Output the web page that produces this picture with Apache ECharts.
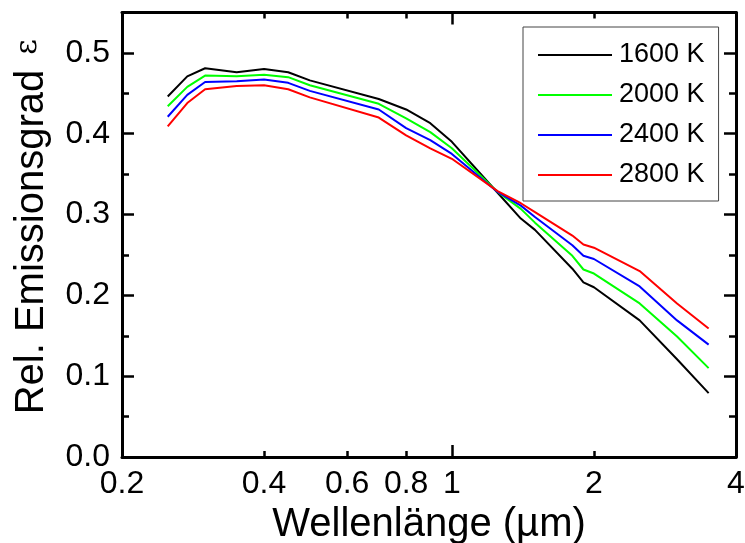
<!DOCTYPE html>
<html>
<head>
<meta charset="utf-8">
<script src="https://cdn.jsdelivr.net/npm/echarts@6/dist/echarts.min.js"></script>
<style>
  html, body { margin: 0; padding: 0; background: #fff; }
  #chart { width: 745px; height: 543px; }
</style>
</head>
<body>
<div id="chart"></div>
<script>
// Wavelength grid (µm) and relative emissivity per temperature
const wavelengths = [0.25, 0.275, 0.3, 0.35, 0.4, 0.45, 0.5, 0.7, 0.8, 0.9, 1.0, 1.25, 1.4, 1.5, 1.8, 1.9, 2.0, 2.5, 3.0, 3.5];
const eps1600 = [0.446, 0.471, 0.481, 0.476, 0.480, 0.476, 0.466, 0.443, 0.430, 0.413, 0.390, 0.327, 0.295, 0.281, 0.233, 0.216, 0.210, 0.169, 0.121, 0.079];
const eps2000 = [0.434, 0.458, 0.472, 0.471, 0.473, 0.470, 0.460, 0.437, 0.419, 0.402, 0.382, 0.328, 0.307, 0.290, 0.249, 0.232, 0.227, 0.190, 0.149, 0.110];
const eps2400 = [0.421, 0.448, 0.464, 0.465, 0.467, 0.463, 0.453, 0.430, 0.407, 0.392, 0.375, 0.328, 0.311, 0.297, 0.262, 0.249, 0.245, 0.211, 0.169, 0.139];
const eps2800 = [0.409, 0.438, 0.455, 0.459, 0.460, 0.455, 0.445, 0.420, 0.398, 0.382, 0.369, 0.329, 0.314, 0.303, 0.274, 0.263, 0.259, 0.230, 0.190, 0.159];

const seriesNames = ['1600 K', '2000 K', '2400 K', '2800 K'];
const seriesColors = ['#000000', '#00ff00', '#0000ff', '#ff0000'];
const seriesValues = [eps1600, eps2000, eps2400, eps2800];

// Axis tick positions
const xLabelValues = [0.2, 0.4, 0.6, 0.8, 1, 2, 4];
const xShortTicks = [0.4, 0.6, 0.8, 2];
const xLongTicks = [1];
const yMajorTicks = [0, 0.1, 0.2, 0.3, 0.4, 0.5];
const yMinorTicks = [0.05, 0.15, 0.25, 0.35, 0.45];

const FONT = 'Liberation Sans, Arial, sans-serif';
const AXIS_COLOR = '#000';

function xAxisDef(position, ticks, len, withLabels, withLine) {
  return {
    type: 'log', logBase: 10, min: 0.2, max: 4, position: position,
    axisLine: { show: withLine, onZero: false, lineStyle: { color: AXIS_COLOR, width: 3 } },
    axisTick: { show: true, inside: true, length: len, customValues: ticks,
      lineStyle: { color: AXIS_COLOR, width: 2.5 } },
    axisLabel: withLabels ? {
      show: true, customValues: xLabelValues, margin: 11,
      color: '#000', fontSize: 32, fontFamily: FONT,
      formatter: function (v) { return String(+v.toPrecision(3)); }
    } : { show: false },
    splitLine: { show: false },
    minorTick: { show: false },
    name: withLabels ? 'Wellenlänge (µm)' : '',
    nameLocation: 'middle', nameGap: 33,
    nameTextStyle: { color: '#000', fontSize: 40, fontFamily: FONT }
  };
}

function yAxisDef(position, ticks, len, withLabels, withLine) {
  return {
    type: 'value', min: 0, max: 0.55, interval: 0.1, position: position,
    axisLine: { show: withLine, onZero: false, lineStyle: { color: AXIS_COLOR, width: 3 } },
    axisTick: { show: true, inside: true, length: len, customValues: ticks,
      lineStyle: { color: AXIS_COLOR, width: 2.5 } },
    axisLabel: withLabels ? {
      show: true, customValues: yMajorTicks, margin: 12,
      color: '#000', fontSize: 32, fontFamily: FONT,
      formatter: function (v) { return v.toFixed(1); }
    } : { show: false },
    splitLine: { show: false },
    name: withLabels ? '{t|Rel. Emissionsgrad }{e|ε}' : '',
    nameLocation: 'middle', nameGap: 70,
    nameTextStyle: {
      color: '#000', fontSize: 40, fontFamily: FONT, padding: [0, 0, 0, 16],
      rich: {
        t: { fontSize: 40, fontFamily: FONT, color: '#000' },
        e: { fontSize: 30, fontFamily: 'DejaVu Serif', color: '#000', padding: [0, 0, 8, 4] }
      }
    }
  };
}

const option = {
  backgroundColor: '#fff',
  animation: false,
  grid: { left: 122, right: 9, top: 12.5, bottom: 86, containLabel: false, outerBoundsMode: 'none' },
  legend: {
    left: 523, top: 27,
    orient: 'vertical',
    padding: [14, 14, 12, 15],
    icon: 'rect',
    itemWidth: 74, itemHeight: 2, itemGap: 12,
    borderColor: '#444', borderWidth: 1,
    backgroundColor: '#fff',
    textStyle: { color: '#000', fontSize: 27, fontFamily: FONT, lineHeight: 28, padding: [0, 0, 0, 2] },
    data: seriesNames
  },
  xAxis: [
    xAxisDef('bottom', xShortTicks, 6, true, true),
    xAxisDef('bottom', xLongTicks, 12, false, false),
    xAxisDef('top', xShortTicks, 6, false, true),
    xAxisDef('top', xLongTicks, 12, false, false)
  ],
  yAxis: [
    yAxisDef('left', yMajorTicks, 12, true, true),
    yAxisDef('left', yMinorTicks, 7, false, false),
    yAxisDef('right', yMajorTicks, 12, false, true),
    yAxisDef('right', yMinorTicks, 7, false, false)
  ],
  series: seriesNames.map(function (name, i) {
    return {
      name: name, type: 'line', xAxisIndex: 0, yAxisIndex: 0,
      symbol: 'none', smooth: false,
      lineStyle: { color: seriesColors[i], width: 2 },
      itemStyle: { color: seriesColors[i] },
      data: wavelengths.map(function (w, k) { return [w, seriesValues[i][k]]; })
    };
  })
};

const chart = echarts.init(document.getElementById('chart'), null, { renderer: 'canvas' });
chart.setOption(option);
</script>
</body>
</html>
